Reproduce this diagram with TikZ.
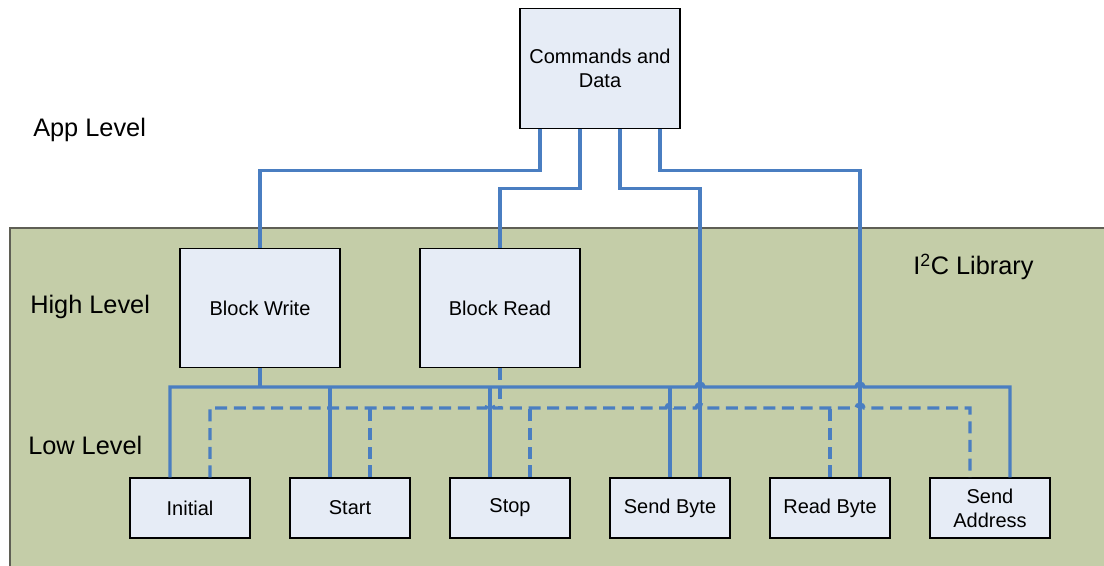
\documentclass[tikz,border=0pt]{standalone}
\usepackage{fontspec}
\setmainfont{Liberation Sans}
\usetikzlibrary{calc}
\definecolor{wireblue}{RGB}{74,126,193}
\definecolor{boxfill}{RGB}{230,236,246}
\definecolor{libgreen}{RGB}{196,205,168}
\definecolor{libedge}{RGB}{95,95,85}
\begin{document}
\begin{tikzpicture}[x=0.75pt,y=-0.75pt,
  box/.style={draw=black, line width=0.8pt, fill=boxfill, inner sep=0pt, align=center, font=\fontsize{15}{18}\selectfont},
  bigbox/.style={box, minimum width=120pt, minimum height=89.5pt},
  smallbox/.style={box, minimum width=90pt, minimum height=45pt},
  wire/.style={draw=wireblue, line width=2.6pt},
  dwire/.style={wire, dash pattern=on 9pt off 5pt},
  lvl/.style={anchor=base west, inner sep=0pt, font=\fontsize{19}{22}\selectfont}]
\useasboundingbox (0,0) rectangle (1104,566);
% library background
\fill[libgreen] (10,228) rectangle (1110,572);
\draw[libedge, line width=1.2pt] (10,572) -- (10,228) -- (1110,228);
% labels
\node[lvl] (app) at (33,137) {App Level};
\node[lvl] (high) at (30,314) {High Level};
\node[lvl] (low) at (28,455) {Low Level};
\node[lvl] (lib) at (913,275) {I\textsuperscript{2}C Library};
% boxes
\node[bigbox] (cd) at (600,68.5) {Commands and\\Data};
\node[bigbox] (bw) at (260,308) {Block Write};
\node[bigbox] (br) at (500,308) {Block Read};
\node[smallbox] (ini) at (190,508) {Initial};
\node[smallbox] (st) at (350,508) {Start};
\node[smallbox] (sp) at (510,508) {Stop};
\node[smallbox] (sb) at (670,508) {Send Byte};
\node[smallbox] (rb) at (830,508) {Read Byte};
\node[smallbox] (sa) at (990,508) {Send\\Address};
% app-level wires
\draw[wire] ($(cd.south)+(-60,0)$) -- ++(0,42) -| (bw.north);
\draw[wire] ($(cd.south)+(-20,0)$) -- ++(0,60) -| (br.north);
\draw[wire] ($(cd.south)+(20,0)$) -- ++(0,60) -| ($(sb.north)+(30,0)$);
\draw[wire] ($(cd.south)+(60,0)$) -- ++(0,42) -| ($(rb.north)+(30,0)$);
% block write solid bus
\draw[wire] (bw.south) -- (260,387);
\draw[wire] ($(ini.north)+(-20,0)$) -- (170,387) -- (696,387)
  .. controls (696,382) and (704,382) .. (704,387) -- (856,387)
  .. controls (856,382) and (864,382) .. (864,387) -- (1010,387)
  -- ($(sa.north)+(20,0)$);
\draw[wire] ($(st.north)+(-20,0)$) -- (330,387);
\draw[wire] ($(sp.north)+(-20,0)$) -- (490,387);
\draw[wire] (sb.north) -- (670,387);
% block read dashed bus
\draw[dwire] (br.south) -- (500,408);
\draw[dwire] ($(ini.north)+(20,0)$) -- (210,408) -- (486,408)
  .. controls (486,403) and (494,403) .. (494,408) -- (666,408)
  .. controls (666,403) and (674,403) .. (674,408) -- (696,408)
  .. controls (696,403) and (704,403) .. (704,408) -- (856,408)
  .. controls (856,403) and (864,403) .. (864,408) -- (970,408)
  -- ($(sa.north)+(-20,0)$);
\draw[dwire] ($(st.north)+(20,0)$) -- (370,408);
\draw[dwire] ($(sp.north)+(20,0)$) -- (530,408);
\draw[dwire] (rb.north) -- (830,408);
\end{tikzpicture}
\end{document}
